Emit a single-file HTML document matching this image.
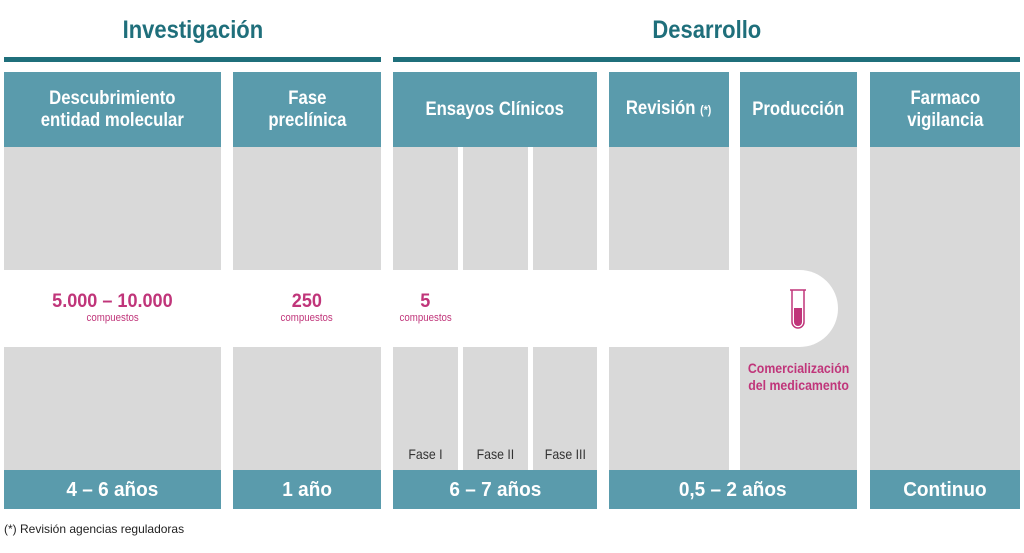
<!DOCTYPE html>
<html><head><meta charset="utf-8"><style>
*{margin:0;padding:0;box-sizing:border-box}
body{width:1024px;height:553px;background:#fff;position:relative;overflow:hidden;font-family:"Liberation Sans",sans-serif;font-weight:bold}
.a{position:absolute}
.c{display:inline-block;transform:scaleX(.88)}
.t{background:#5a9bac;color:#fff;display:flex;align-items:center;justify-content:center;text-align:center;font-size:19px;line-height:22px}
.ft{font-size:20px}
.ft .c{transform:scaleX(.95)}
.g{background:#d9d9d9}
.ln{background:#1f6f7b;height:5px;top:57px}
.h{color:#1f6f7b;font-size:25px;top:16px;text-align:center}
.m{color:#c0357a;text-align:center}
.n{display:block;font-size:19px;line-height:20px;font-weight:bold}
.n .c{transform:scaleX(.95)}
.s{display:block;font-size:11px;font-weight:normal;line-height:13px}
.f{font-weight:normal;font-size:14px;color:#333;text-align:center;top:446px}
</style></head><body>
<div class="a h" style="left:4px;width:377px"><span class="c">Investigación</span></div>
<div class="a h" style="left:393px;width:627px"><span class="c">Desarrollo</span></div>
<div class="a ln" style="left:4px;width:377px"></div>
<div class="a ln" style="left:393px;width:627px"></div>

<div class="a g" style="left:4px;top:147px;width:217px;height:323px"></div>
<div class="a g" style="left:233px;top:147px;width:148px;height:323px"></div>
<div class="a g" style="left:393px;top:147px;width:65px;height:323px"></div>
<div class="a g" style="left:463px;top:147px;width:65px;height:323px"></div>
<div class="a g" style="left:533px;top:147px;width:64px;height:323px"></div>
<div class="a g" style="left:609px;top:147px;width:120px;height:323px"></div>
<div class="a g" style="left:740px;top:147px;width:117px;height:323px"></div>
<div class="a g" style="left:870px;top:147px;width:150px;height:323px"></div>

<div class="a" style="left:0;top:270px;width:838px;height:77px;background:#fff;border-radius:0 39px 39px 0"></div>

<div class="a t" style="left:4px;top:72px;width:217px;height:75px"><span class="c">Descubrimiento<br>entidad molecular</span></div>
<div class="a t" style="left:233px;top:72px;width:148px;height:75px"><span class="c">Fase<br>preclínica</span></div>
<div class="a t" style="left:393px;top:72px;width:204px;height:75px"><span class="c">Ensayos Clínicos</span></div>
<div class="a t" style="left:609px;top:72px;width:120px;height:75px"><span class="c">Revisión&nbsp;<span style="font-size:12px">(*)</span></span></div>
<div class="a t" style="left:740px;top:72px;width:117px;height:75px"><span class="c">Producción</span></div>
<div class="a t" style="left:870px;top:72px;width:150px;height:75px"><span class="c">Farmaco<br>vigilancia</span></div>

<div class="a t ft" style="left:4px;top:470px;width:217px;height:39px"><span class="c">4 – 6 años</span></div>
<div class="a t ft" style="left:233px;top:470px;width:148px;height:39px"><span class="c">1 año</span></div>
<div class="a t ft" style="left:393px;top:470px;width:204px;height:39px"><span class="c">6 – 7 años</span></div>
<div class="a t ft" style="left:609px;top:470px;width:248px;height:39px"><span class="c">0,5 – 2 años</span></div>
<div class="a t ft" style="left:870px;top:470px;width:150px;height:39px"><span class="c">Continuo</span></div>

<div class="a m" style="left:4px;top:292px;width:217px"><div class="n"><span class="c">5.000 – 10.000</span></div><div class="s"><span class="c">compuestos</span></div></div>
<div class="a m" style="left:233px;top:292px;width:148px"><div class="n"><span class="c">250</span></div><div class="s"><span class="c">compuestos</span></div></div>
<div class="a m" style="left:393px;top:292px;width:65px"><div class="n"><span class="c">5</span></div><div class="s"><span class="c">compuestos</span></div></div>

<svg class="a" style="left:786px;top:288px" width="24" height="44" viewBox="0 0 24 44">
<path d="M4 2h16M6 2v32a6 6 0 0 0 12 0V2" fill="none" stroke="#c0357a" stroke-width="1.5"/>
<path d="M8 20h8v14a4 4 0 0 1-8 0z" fill="#c0357a"/>
</svg>
<div class="a m" style="left:740px;top:360px;width:117px;font-size:14px;line-height:17px;font-weight:bold"><span class="c">Comercialización<br>del medicamento</span></div>

<div class="a f" style="left:393px;width:65px"><span class="c">Fase I</span></div>
<div class="a f" style="left:463px;width:65px"><span class="c">Fase II</span></div>
<div class="a f" style="left:533px;width:64px"><span class="c">Fase III</span></div>

<div class="a" style="left:4px;top:522px;font-size:12px;font-weight:normal;color:#222">(*) Revisión agencias reguladoras</div>
</body></html>
